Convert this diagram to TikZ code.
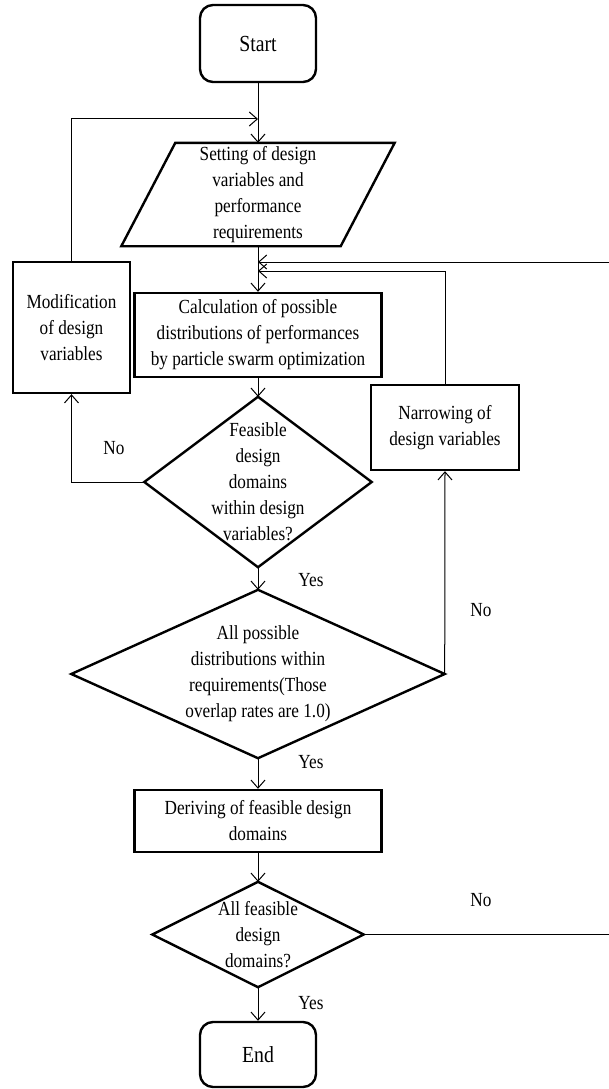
\documentclass[tikz,border=0pt]{standalone}
\usepackage{fontspec}
\setmainfont{Liberation Serif}[FakeStretch=0.86]
\usetikzlibrary{arrows.meta,calc}
\begin{document}
\begin{tikzpicture}[x=1pt,y=-1pt,
  box/.style={draw,line width=2.4pt,align=center,inner sep=0pt,font=\fontsize{20}{26}\selectfont},
  term/.style={box,rounded corners=13pt,font=\fontsize{23}{28}\selectfont},
  plain/.style={align=center,inner sep=0pt,font=\fontsize{20}{26}\selectfont},
  shapeline/.style={line width=2.4pt,line join=miter},
  conn/.style={line width=1pt,-{Straight Barb[length=8pt,width=14pt,line width=1pt]}},
  lbl/.style={font=\fontsize{20}{24}\selectfont,inner sep=0pt}
]
\useasboundingbox (0,0) rectangle (608,1089);

\node[term, minimum width=116pt, minimum height=77pt] (start) at (258,43.5) {Start};

\node[plain, minimum width=273pt, minimum height=103pt] (set) at (258,194.5)
  {Setting of design\\variables and\\performance\\requirements};
\draw[shapeline] ($(set.north west)+(54,0)$) -- (set.north east) -- ($(set.south east)+(-54,0)$) -- (set.south west) -- cycle;

\node[box, minimum width=247pt, minimum height=84pt] (calc) at (258,335)
  {Calculation of possible\\distributions of performances\\by particle swarm optimization};

\node[box, minimum width=117pt, minimum height=131pt] (mod) at (71.5,327.5)
  {Modification\\of design\\variables};

\node[plain, minimum width=227pt, minimum height=170pt] (d1) at (258,482)
  {Feasible\\design\\domains\\within design\\variables?};
\draw[shapeline] (d1.north) -- (d1.east) -- (d1.south) -- (d1.west) -- cycle;

\node[box, minimum width=148pt, minimum height=85pt] (nar) at (445,427.5)
  {Narrowing of\\design variables};

\node[plain, minimum width=373pt, minimum height=168pt] (d2) at (258,674)
  {All possible\\distributions within\\requirements(Those\\overlap rates are 1.0)};
\draw[shapeline] (d2.north) -- (d2.east) -- (d2.south) -- (d2.west) -- cycle;

\node[box, minimum width=247pt, minimum height=62pt] (der) at (258,821)
  {Deriving of feasible design\\domains};

\node[plain, minimum width=211pt, minimum height=105pt] (d3) at (258,934.5)
  {All feasible\\design\\domains?};
\draw[shapeline] (d3.north) -- (d3.east) -- (d3.south) -- (d3.west) -- cycle;

\node[term, minimum width=116pt, minimum height=65pt] (end) at (258,1054.5) {End};

\coordinate (j1) at (258,119);
\coordinate (j2) at (258,262);
\coordinate (j3) at (258,271);
\coordinate (rtop) at (610,262);
\coordinate (rbot) at (610,934.5);

\draw[conn] (start.south) -- (set.north);
\draw[conn] (mod.north) |- (j1);
\draw[conn] (set.south) -- (calc.north);
\draw[conn] (nar.north) |- (j3);
\draw[conn] (d3.east) -- (rbot) -- (rtop) -- (j2);
\draw[conn] (calc.south) -- (d1.north);
\draw[conn] (d1.west) -| (mod.south);
\draw[conn] (d1.south) -- (d2.north);
\draw[conn] (d2.east) -- (nar.south);
\draw[conn] (d2.south) -- (der.north);
\draw[conn] (der.south) -- (d3.north);
\draw[conn] (d3.south) -- (end.north);

\node[lbl] (no1) at (114,448) {No};
\node[lbl] (yes1) at (311,580) {Yes};
\node[lbl] (no2) at (481,610) {No};
\node[lbl] (yes2) at (311,762) {Yes};
\node[lbl] (no3) at (481,900) {No};
\node[lbl] (yes3) at (311,1003) {Yes};
\end{tikzpicture}
\end{document}
